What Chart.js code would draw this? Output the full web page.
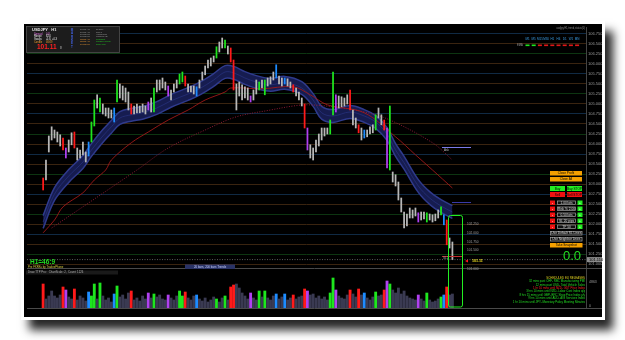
<!DOCTYPE html>
<html lang="en">
<head>
<meta charset="UTF-8">
<title>USDJPY H1</title>
<script src="https://cdn.jsdelivr.net/npm/chart.js"></script>
<style>
  html, body { margin: 0; padding: 0; background: #fff; }
  body { width: 625px; height: 340px; position: relative; overflow: hidden; }
  #frame { position: absolute; left: 21px; top: 21px; width: 584px; height: 299px; background: #fff;
           box-shadow: 8px 10px 9px rgba(0,0,0,0.85); }
  #inner { position: absolute; left: 3px; top: 3px; width: 578px; height: 293px; background: #000; }
  #wrap { position: absolute; left: 0; top: 0; width: 625px; height: 340px; }
</style>
</head>
<body>
<div id="frame"><div id="inner"></div></div>
<div id="wrap"><canvas id="canvas" width="625" height="340"></canvas></div>
<script>
// H1 bars, high / low per bar
const highs = [103.15,103.60,104.20,104.43,104.35,104.30,104.23,104.15,103.90,104.10,
  104.28,104.30,103.90,103.85,104.05,103.80,104.05,104.55,105.10,105.23,
  105.15,105.00,104.90,104.90,104.85,104.90,105.60,105.50,105.45,105.40,
  105.30,105.00,104.95,105.00,104.95,105.00,104.95,105.05,105.15,105.40,
  105.60,105.60,105.65,105.55,105.45,105.35,105.50,105.60,105.75,105.80,
  105.70,105.50,105.45,105.45,105.43,105.60,105.80,105.95,106.10,106.15,
  106.20,106.43,106.55,106.65,106.60,106.45,106.40,106.10,105.50,105.55,
  105.48,105.43,105.40,105.20,105.35,105.60,105.55,105.60,105.60,105.65,
  105.68,105.80,105.98,105.70,105.65,105.65,105.63,105.55,105.48,105.40,
  105.30,105.15,105.00,104.40,103.98,103.90,104.10,104.25,104.40,104.40,
  104.40,104.60,105.80,105.23,105.20,105.18,105.15,105.23,105.35,104.85,
  104.65,104.48,104.40,104.35,104.35,104.43,104.48,104.73,104.90,104.73,
  104.60,104.40,104.95,103.30,103.23,103.05,102.65,102.30,102.25,102.40,
  102.35,102.40,102.28,102.30,102.30,102.28,102.25,102.23,102.25,102.35,
  102.43,102.23,102.10,101.65,101.55];
const lows = [102.85,103.10,103.80,104.10,104.15,104.05,103.95,103.85,103.65,103.80,
  103.98,103.90,103.60,103.65,103.73,103.55,103.70,104.05,104.45,104.90,
  104.80,104.75,104.70,104.65,104.65,104.55,105.05,105.15,105.10,105.05,
  104.85,104.75,104.75,104.78,104.78,104.80,104.75,104.85,104.80,104.80,
  105.30,105.35,105.40,105.35,105.20,105.10,105.30,105.40,105.50,105.55,
  105.45,105.30,105.30,105.25,105.20,105.40,105.60,105.73,105.90,105.95,
  106.05,106.15,106.30,106.40,106.40,106.25,106.05,105.35,104.85,105.20,
  105.10,105.15,105.10,105.05,105.10,105.25,105.35,105.40,105.23,105.45,
  105.50,105.60,105.65,105.50,105.45,105.50,105.45,105.40,105.30,105.20,
  105.10,104.95,104.40,103.85,103.65,103.60,103.80,103.95,104.10,104.20,
  104.25,104.25,104.73,104.80,104.90,104.93,104.95,105.00,104.85,104.48,
  104.40,104.28,104.10,104.15,104.18,104.25,104.28,104.35,104.65,104.48,
  104.35,103.40,103.35,103.05,102.95,102.60,102.30,101.90,101.95,102.15,
  102.15,102.20,102.05,102.10,102.13,102.05,102.10,102.05,102.08,102.15,
  102.23,101.98,101.48,101.40,101.11];
const volumes = [2400,900,1200,1700,1200,1000,1300,2100,1800,1100,
  900,1900,800,1200,1000,700,1600,1200,2400,900,
  2500,1200,800,1000,600,1400,2200,1100,1300,900,
  1500,1700,800,1000,700,1200,900,1500,1000,1400,
  1100,1300,900,800,1300,1000,800,1200,1700,1200,
  1600,1000,800,1200,1300,900,700,1000,600,800,
  1100,900,600,1000,1200,800,2100,2300,2400,2000,
  1500,1200,900,1500,1000,800,1700,1100,1700,1000,
  800,1200,1400,900,1100,1400,800,1000,1300,900,
  1100,1200,1900,1700,1300,1400,1000,1200,900,1100,
  800,1500,3000,1800,1200,1000,900,1300,1800,1400,
  1100,1900,1300,1500,1000,800,1100,1600,1200,1300,
  1800,2700,2400,1800,1500,2000,1400,1700,1200,1000,
  900,800,1300,900,700,1500,800,600,700,900,
  1100,1300,2100,1300,1400];
// bars painted by the signal indicator
const redBars = [0,7,11,31,50,66,67,88,92,108,111,120,142];
const greenBars = [17,18,20,26,39,48,49,61,64,76,78,101,102,117,122,135,140];
const blueBars = [16,25,54,82,85,113,141];
const purpleBars = [8,37,44,73,93,103,121,132];
// moving averages: [bar, price]
const bandUpper = [[0,102.21],[4,102.91],[9,103.36],[14,103.71],[17,104.01],[21,104.36],[24,104.59],[27,104.81],
  [31,104.89],[35,104.94],[40,105.06],[45,105.24],[51,105.41],[55,105.54],[60,105.76],[64,105.96],[67,105.94],
  [71,105.81],[75,105.71],[80,105.64],[85,105.69],[91,105.56],[95,105.26],[98,104.94],[102,104.86],[108,104.96],
  [113,104.86],[117,104.71],[121,104.41],[124,104.01],[127,103.69],[132,103.11],[136,102.81],[140,102.61],[144,102.46]];
const bandLower = [[0,101.89],[4,102.59],[9,103.04],[14,103.39],[17,103.69],[21,104.04],[24,104.27],[27,104.49],
  [31,104.57],[35,104.62],[40,104.74],[45,104.92],[51,105.09],[55,105.22],[60,105.44],[64,105.64],[67,105.62],
  [71,105.49],[75,105.39],[80,105.32],[85,105.37],[91,105.24],[95,104.94],[98,104.62],[102,104.54],[108,104.64],
  [113,104.54],[117,104.39],[121,104.09],[124,103.69],[127,103.37],[132,102.79],[136,102.49],[140,102.29],[144,102.14]];
const bandMid = [[0,102.05],[4,102.75],[9,103.20],[14,103.55],[17,103.85],[21,104.20],[24,104.43],[27,104.65],
  [31,104.73],[35,104.78],[40,104.90],[45,105.08],[51,105.25],[55,105.38],[60,105.60],[64,105.80],[67,105.78],
  [71,105.65],[75,105.55],[80,105.48],[85,105.53],[91,105.40],[95,105.10],[98,104.78],[102,104.70],[108,104.80],
  [113,104.70],[117,104.55],[121,104.25],[124,103.85],[127,103.53],[132,102.95],[136,102.65],[140,102.45],[144,102.30]];
const maFast = [[0,101.78],[4,102.10],[7,102.43],[14,102.78],[18,103.10],[22,103.35],[24,103.60],[31,104.03],
  [37,104.30],[44,104.60],[51,104.85],[57,105.10],[64,105.30],[66,105.40],[77,105.38],[88,105.43],[94,105.23],
  [100,104.98],[113,104.78],[124,104.18],[131,103.73],[137,103.35],[144,102.90]];
const maSlow = [[3,101.90],[33,103.35],[44,103.90],[57,104.35],[68,104.68],[80,104.85],[88,104.95],[93,104.98],
  [102,104.93],[113,104.80],[122,104.60],[137,104.03],[144,103.60]];
const bidPrice = 101.11;
const timeTicks = [[0,'24 Jul 08:00'],[8,'24 Jul 16:00'],[16,'25 Jul 2014'],[24,'25 Jul 08:00'],[32,'25 Jul 16:00'],
  [40,'28 Jul 2014'],[48,'28 Jul 08:00'],[56,'28 Jul 16:00'],[64,'29 Jul 2014'],[72,'29 Jul 08:00'],[80,'29 Jul 16:00'],
  [88,'30 Jul 2014'],[96,'30 Jul 08:00'],[104,'30 Jul 16:00'],[112,'31 Jul 2014'],[120,'31 Jul 08:00'],
  [128,'31 Jul 16:00'],[136,'1 Aug 2014'],[144,'1 Aug 08:00']];
const timeframes = ['M1','M5','M15','M30','H1','H4','D1','W1','MN'];
const tfTrendUp = [true,true,false,false,false,false,false,false,false];
const sessions = [['10:22 AM','Sydney'],['10:22 AM','Tokyo'],['10:22 PM','HongKong'],['10:22 PM','Moscow (3)'],
  ['03:22 AM','Frankfurt'],['02:22 AM','London (GMT)'],['10:22 PM','New York']];
const releases = [['SCHEDULED EU RELEASES','#e0d020'],
  ['32 mins past CHF- RBC Manufacturing PMI','#22dd22'],
  ['12 mins past USD- Total Vehicle Sales','#22dd22'],
  ['1 hr 10 mins until NZD- GDT Price Index','#ff2020'],
  ['3 hrs 10 mins until NZD- Labor Cost Index q/q','#22dd22'],
  ['8 hrs 15 mins until GBP- BRC Shop Price Index y/y','#22dd22'],
  ['9 hrs 10 mins until AUD- AIG Services Index','#22dd22'],
  ['1 hr 10 mins until JPY- Monetary Policy Meeting Minutes','#22dd22']];

const RED = '#ff1a1a', GREEN = '#1ee61e', BLUE = '#1e8cff', PURPLE = '#b040f0';
function paint(i, fallback) {
  if (redBars.includes(i)) return RED;
  if (greenBars.includes(i)) return GREEN;
  if (blueBars.includes(i)) return BLUE;
  if (purpleBars.includes(i)) return PURPLE;
  return fallback;
}
const pts = arr => arr.map(p => ({ x: p[0], y: p[1] }));
const candleData = highs.map((h, i) => ({ x: i, y: [lows[i], h] }));
const volData = volumes.map((v, i) => ({ x: i, y: v }));
const gridCycle = ['#3a2410', '#0d3511', '#3a2410', '#102a44'];

function txt(ctx, s, x, y, col, size, align, bold) {
  ctx.font = (bold ? 'bold ' : '') + size + 'px "Liberation Sans", sans-serif';
  ctx.fillStyle = col;
  ctx.textAlign = align || 'left';
  ctx.textBaseline = 'middle';
  ctx.fillText(s, x, y);
}
function btn(ctx, x, y, w, h, fill, stroke, label, col) {
  ctx.fillStyle = fill;
  ctx.fillRect(x, y, w, h);
  if (stroke) { ctx.strokeStyle = stroke; ctx.lineWidth = 0.7; ctx.strokeRect(x + 0.5, y + 0.5, w - 1, h - 1); }
  txt(ctx, label, x + w / 2, y + h / 2 + 0.2, col, 3.2, 'center');
}

const overlay = {
  id: 'overlay',
  afterDatasetsDraw(chart) {
    const ctx = chart.ctx, a = chart.chartArea, ys = chart.scales.y;
    const by = ys.getPixelForValue(bidPrice);
    ctx.save();
    ctx.strokeStyle = '#9a9a9a'; ctx.lineWidth = 0.6; ctx.setLineDash([1, 1.5]);
    ctx.beginPath(); ctx.moveTo(a.left, by); ctx.lineTo(a.right, by); ctx.stroke();
    ctx.setLineDash([]);
    // pane separator
    ctx.strokeStyle = '#4a4a4a'; ctx.lineWidth = 1;
    ctx.beginPath(); ctx.moveTo(a.left, 268.5); ctx.lineTo(602, 268.5); ctx.stroke();
    ctx.beginPath(); ctx.moveTo(a.left, 308.5); ctx.lineTo(602, 308.5); ctx.stroke();
    // objects near the last bars
    ctx.strokeStyle = '#7b7bea'; ctx.beginPath(); ctx.moveTo(442, 147.5); ctx.lineTo(471, 147.5); ctx.stroke();
    txt(ctx, 'Ask', 444, 150.5, '#bbbbbb', 3);
    ctx.strokeStyle = '#3a3aa8'; ctx.beginPath(); ctx.moveTo(452, 202.5); ctx.lineTo(471, 202.5); ctx.stroke();
    ctx.strokeStyle = '#c03030'; ctx.beginPath(); ctx.moveTo(442, 256.5); ctx.lineTo(462, 256.5); ctx.stroke();
    txt(ctx, 'SL2', 443, 258.5, '#aaaaaa', 3);
    [['102.250', 224], ['102.000', 233], ['101.750', 242], ['101.500', 250], ['101.000', 269]].forEach(l =>
      txt(ctx, l[0], 467, l[1], '#a0a0a0', 3.2));
    ctx.fillStyle = RED;
    ctx.beginPath(); ctx.moveTo(465, 261); ctx.lineTo(468, 259.5); ctx.lineTo(468, 262.5); ctx.fill();
    txt(ctx, '101.11', 472, 260.5, '#f0e020', 3.6, 'left', true);
    ctx.strokeStyle = '#22ee22'; ctx.lineWidth = 1;
    ctx.beginPath(); ctx.roundRect(448.5, 215.5, 14, 91.5, 2); ctx.stroke();
    ctx.restore();
  },
  afterDraw(chart) {
    const ctx = chart.ctx, ys = chart.scales.y;
    ctx.save();
    // bid tag on the price axis
    const by = ys.getPixelForValue(bidPrice);
    ctx.fillStyle = '#8c8c8c'; ctx.fillRect(587, by - 2.5, 15, 5);
    txt(ctx, bidPrice.toFixed(3), 589, by + 0.2, '#000', 4);
    txt(ctx, '4863', 589, 282, '#9a9a9a', 3.5);
    txt(ctx, '0', 589, 306, '#9a9a9a', 3.5);

    // info box
    ctx.fillStyle = '#1c1c1c'; ctx.fillRect(26, 26, 94, 27);
    ctx.strokeStyle = '#4e4e4e'; ctx.lineWidth = 0.8; ctx.strokeRect(26.5, 26.5, 93, 26);
    txt(ctx, 'USDJPY   H1', 32, 29.8, '#e8e8e8', 4, 'left', true);
    [['Spread', '0.8', '#e070e0'], ['Range', '62.0', '#e8e8e8'], ['Swaps', '-0.8, +0.3', '#e8e8e8'], ['Candle', '46:09', '#f0a030']]
      .forEach((r, k) => { txt(ctx, r[0], 34, 34 + k * 2.6, r[2], 2.6); txt(ctx, r[1], 46, 34 + k * 2.6, r[2], 2.6); });
    txt(ctx, '101.11', 37, 47.3, '#ff2020', 6.5, 'left', true);
    txt(ctx, '8', 60, 48, '#cccccc', 3);
    'MARKET'.split('').forEach((c, k) => txt(ctx, c, 72, 30 + k * 3.4, '#4060e0', 3, 'center', true));
    sessions.forEach((s, k) => {
      const col = k < 4 ? '#9a9a9a' : '#e09030';
      txt(ctx, s[0], 80, 29.5 + k * 2.45, col, 2.3);
      txt(ctx, s[1], 96, 29.5 + k * 2.45, k < 4 ? '#9a9a9a' : '#22cc22', 2.3);
    });

    // trend dashboard
    txt(ctx, 'usdjpy,H1,trend,status(0)', 585, 28.5, '#8a8a8a', 2.6, 'right');
    timeframes.forEach((t, k) => {
      const cx = 527.5 + k * 6.2;
      txt(ctx, t, cx, 39.5, '#3a9ae0', 3, 'center');
      ctx.fillStyle = tfTrendUp[k] ? GREEN : '#e01818';
      ctx.fillRect(cx - 2, 44.5, 4, 1.6);
    });
    txt(ctx, 'EMA', 517, 45.3, '#9a9a9a', 2.6);

    // trade panel
    btn(ctx, 550, 171, 32, 4.5, '#f5a000', null, 'Close Profit', '#000');
    btn(ctx, 550, 177, 32, 4.5, '#f5a000', null, 'Close All', '#000');
    btn(ctx, 550, 186, 15, 5, '#22ee22', null, 'Buy', '#000');
    btn(ctx, 567, 186, 15, 5, '#22ee22', null, 'Buy STOP', '#000');
    btn(ctx, 550, 192, 15, 5, '#ee1111', null, 'Sell', '#000');
    btn(ctx, 567, 192, 15, 5, '#ee1111', null, 'Sell STOP', '#000');
    ['1.00 lots', 'Risk % 2.00', '0.50 lots', 'SL 20 pips', 'TP 50'].forEach((l, k) => {
      const y = 200.5 + k * 6;
      btn(ctx, 550, y, 5, 4.5, '#ee1111', null, '-', '#fff');
      btn(ctx, 557, y, 19, 4.5, '#101010', '#a0a0a0', l, '#dddddd');
      btn(ctx, 577.5, y, 5, 4.5, '#22ee22', null, '+', '#fff');
    });
    btn(ctx, 550, 231, 32.5, 4.5, '#101010', '#a0a0a0', 'Use Default SL Lines', '#dddddd');
    btn(ctx, 550, 237, 32.5, 4.5, '#101010', '#a0a0a0', 'Use Neighbor Lines', '#dddddd');
    btn(ctx, 550, 243, 32.5, 4.5, '#f5a000', null, 'Take Snapshot', '#000');
    txt(ctx, '0.0', 572, 256, '#22dd22', 13, 'center');

    // lower left labels
    txt(ctx, 'H1=46:9', 30, 262.5, '#22dd22', 6.5, 'left', true);
    txt(ctx, 'Pre FXRKs by TradeePhone', 28, 267, '#d8d040', 2.8);
    ctx.fillStyle = '#1a1a1a'; ctx.fillRect(26, 270.5, 92, 4);
    txt(ctx, 'Draw TTP Pro :  ChartScale: 2,  Count: 1226', 28, 272.6, '#b0b0b0', 2.8);
    ctx.fillStyle = '#2a3366'; ctx.fillRect(185, 264.5, 50, 4.5);
    txt(ctx, '20 bars, 200 bars Trends', 210, 266.9, '#c8d0ff', 2.9, 'center');

    // scheduled releases
    releases.forEach((r, k) => txt(ctx, r[0], 585, 278 + k * 3.4, r[1], 2.9, 'right'));
    ctx.restore();
  }
};

const data = {
  datasets: [
    { type: 'line', data: pts(bandUpper), borderColor: '#2f3a8c', borderWidth: 1.5, backgroundColor: '#161c50',
      fill: '+1', pointRadius: 0, tension: 0.35, order: 10, yAxisID: 'y' },
    { type: 'line', data: pts(bandLower), borderColor: '#2f3a8c', borderWidth: 1.5, fill: false,
      pointRadius: 0, tension: 0.35, order: 9, yAxisID: 'y' },
    { type: 'line', data: pts(bandMid), borderColor: '#26307a', borderWidth: 0.8, fill: false,
      pointRadius: 0, tension: 0.35, order: 8, yAxisID: 'y' },
    { type: 'line', data: pts(maSlow), borderColor: '#9a1c3a', borderWidth: 0.9, borderDash: [1, 1.5], fill: false,
      pointRadius: 0, tension: 0.35, order: 7, yAxisID: 'y' },
    { type: 'line', data: pts(maFast), borderColor: '#a01818', borderWidth: 0.9, fill: false,
      pointRadius: 0, tension: 0.35, order: 6, yAxisID: 'y' },
    { type: 'bar', data: volData, backgroundColor: volumes.map((v, i) => paint(i, '#3a3a52')),
      barThickness: 2.2, grouped: false, order: 5, yAxisID: 'v' },
    { type: 'bar', data: candleData, backgroundColor: highs.map((v, i) => paint(i, '#b8b8b8')),
      barThickness: 1.1, minBarLength: 1, grouped: false, order: 1, yAxisID: 'y' }
  ]
};

window.onload = function () {
  const ctx = document.getElementById('canvas').getContext('2d');
  new Chart(ctx, {
    type: 'bar',
    data: data,
    options: {
      responsive: false,
      animation: false,
      layout: { padding: { left: 27, top: 27, right: 23, bottom: 24 } },
      plugins: { legend: { display: false }, tooltip: { enabled: false } },
      scales: {
        x: {
          type: 'linear', min: -0.5, max: 185.83,
          afterBuildTicks: s => { s.ticks = timeTicks.map(t => ({ value: t[0] })); },
          afterFit: s => { s.height = 8; },
          ticks: {
            autoSkip: false, maxRotation: 0, padding: 1, color: '#8a8a8a',
            font: { size: 3.5, family: 'Liberation Sans' },
            callback: v => { const t = timeTicks.find(p => p[0] === v); return t ? t[1] : ''; }
          },
          grid: { display: false }, border: { display: false }
        },
        y: {
          type: 'linear', position: 'right', stack: 'pane', stackWeight: 239,
          min: 100.95, max: 106.925,
          afterFit: s => { s.width = 16; },
          ticks: { stepSize: 0.25, maxTicksLimit: 100, includeBounds: false, autoSkip: false, padding: 2,
                   color: '#9a9a9a', font: { size: 4, family: 'Liberation Sans' }, callback: v => v.toFixed(3) },
          grid: { drawTicks: false, lineWidth: 1,
                  color: c => gridCycle[Math.round((c.tick.value - 101) / 0.25) % gridCycle.length] },
          border: { color: '#444444' }
        },
        v: {
          type: 'linear', position: 'right', stack: 'pane', stackWeight: 42,
          min: 0, max: 4200,
          afterFit: s => { s.width = 16; },
          ticks: { display: false }, grid: { display: false }, border: { color: '#444444' }
        }
      }
    },
    plugins: [overlay]
  });
};
</script>
</body>
</html>
